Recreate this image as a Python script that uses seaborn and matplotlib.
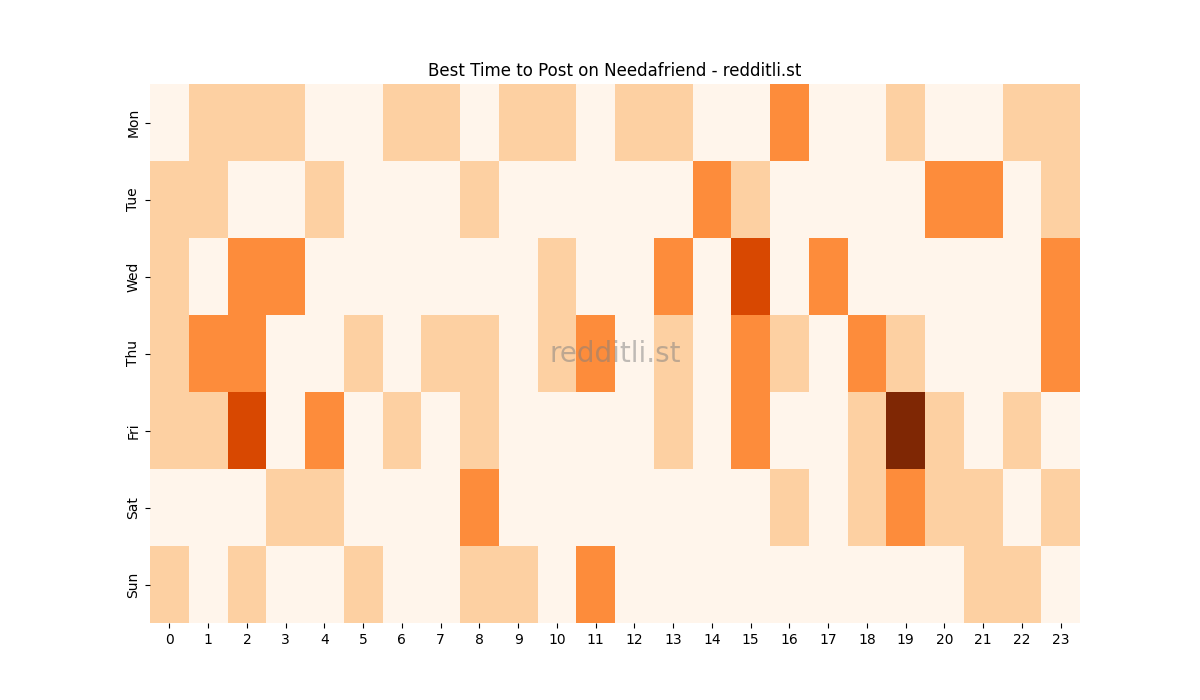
import matplotlib
matplotlib.use("Agg")
import matplotlib.pyplot as plt
import seaborn as sns
import pandas as pd

days = ["Mon", "Tue", "Wed", "Thu", "Fri", "Sat", "Sun"]
hours = list(range(24))

mon = [0,1,1,1,0,0,1,1,0,1,1,0,1,1,0,0,2,0,0,1,0,0,1,1]
tue = [1,1,0,0,1,0,0,0,1,0,0,0,0,0,2,1,0,0,0,0,2,2,0,1]
wed = [1,0,2,2,0,0,0,0,0,0,1,0,0,2,0,3,0,2,0,0,0,0,0,2]
thu = [1,2,2,0,0,1,0,1,1,0,1,2,0,1,0,2,1,0,2,1,0,0,0,2]
fri = [1,1,3,0,2,0,1,0,1,0,0,0,0,1,0,2,0,0,1,4,1,0,1,0]
sat = [0,0,0,1,1,0,0,0,2,0,0,0,0,0,0,0,1,0,1,2,1,1,0,1]
sun = [1,0,1,0,0,1,0,0,1,1,0,2,0,0,0,0,0,0,0,0,0,1,1,0]

df = pd.DataFrame([mon, tue, wed, thu, fri, sat, sun], index=days, columns=hours)

fig, ax = plt.subplots(figsize=(12, 7), dpi=100)
sns.heatmap(df, cmap="Oranges", cbar=False, ax=ax)
ax.set_title("Best Time to Post on Needafriend - redditli.st")
ax.set_xlabel("")
ax.set_ylabel("")
ax.text(0.5, 0.5, "redditli.st", transform=ax.transAxes, ha="center", va="center",
        fontsize=20, color="grey", alpha=0.5)
fig.savefig("out.png", dpi=100)
